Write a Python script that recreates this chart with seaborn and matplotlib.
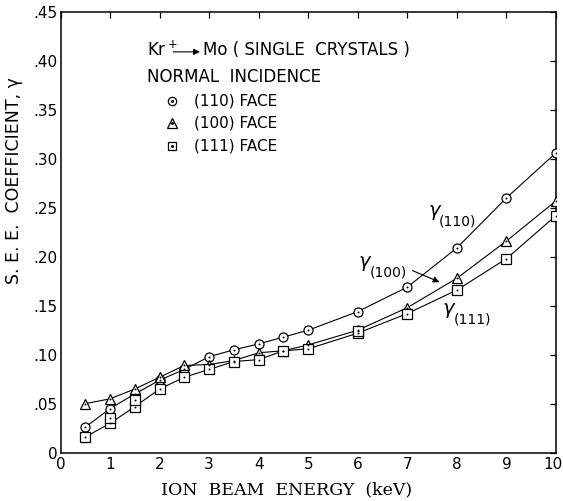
import numpy as np
import pandas as pd
import matplotlib
matplotlib.use("Agg")
import matplotlib.pyplot as plt
import matplotlib.transforms as mtrans
import seaborn as sns

# ---------------- data ----------------
energy = [0.5, 1, 1.5, 2, 2.5, 3, 3.5, 4, 4.5, 5, 6, 7, 8, 9, 10]
face110 = [0.026, 0.045, 0.060, 0.074, 0.085, 0.098, 0.105, 0.111, 0.118, 0.125, 0.144, 0.169, 0.209, 0.260, 0.306]
face100 = [0.050, 0.055, 0.065, 0.077, 0.089, 0.090, 0.094, 0.102, 0.104, 0.110, 0.125, 0.148, 0.178, 0.216, 0.257]
face111 = [0.016, 0.030, 0.047, 0.065, 0.077, 0.085, 0.093, 0.095, 0.104, 0.106, 0.122, 0.142, 0.166, 0.198, 0.242]
# repeated (111) measurements
extra111_x = [1, 1.5, 6]
extra111_y = [0.035, 0.054, 0.124]

series_names = ["(110) FACE", "(100) FACE", "(111) FACE"]
x_ticks = [0, 1, 2, 3, 4, 5, 6, 7, 8, 9, 10]
x_ticklabels = ["0", "1", "2", "3", "4", "5", "6", "7", "8", "9", "10"]
y_ticks = [0, 0.05, 0.10, 0.15, 0.20, 0.25, 0.30, 0.35, 0.40, 0.45]
y_ticklabels = ["0", ".05", ".10", ".15", ".20", ".25", ".30", ".35", ".40", ".45"]

df = pd.DataFrame({
    "energy": energy * 3,
    "coef": face110 + face100 + face111,
    "face": [series_names[0]] * len(energy) + [series_names[1]] * len(energy) + [series_names[2]] * len(energy),
})
df_extra = pd.DataFrame({"energy": extra111_x, "coef": extra111_y})

# ---------------- style ----------------
sns.set_theme(style="white")
plt.rcParams["font.family"] = ["DejaVu Sans"]
plt.rcParams["mathtext.fontset"] = "dejavusans"
plt.rcParams["text.color"] = "black"

fig = plt.figure(figsize=(5.63, 5.01), dpi=100)
ax = fig.add_axes([60.5 / 563, 1 - 452.7 / 501, (556 - 60.5) / 563, (452.7 - 11.7) / 501])

markers = {"(110) FACE": "o", "(100) FACE": "^", "(111) FACE": "s"}
sizes = {"(110) FACE": 6.5, "(100) FACE": 7, "(111) FACE": 6.5}
for name in series_names:
    sub = df[df["face"] == name]
    sns.lineplot(data=sub, x="energy", y="coef", ax=ax, color="black", lw=0.8,
                 marker=markers[name], markersize=sizes[name], markerfacecolor="white",
                 markeredgecolor="black", markeredgewidth=0.9, legend=False, zorder=3)
    sns.scatterplot(data=sub, x="energy", y="coef", ax=ax, color="black", s=2,
                    linewidth=0, legend=False, zorder=5)
sns.scatterplot(data=df_extra, x="energy", y="coef", ax=ax, marker="s", s=45,
                facecolor="white", edgecolor="black", linewidth=0.9, legend=False, zorder=4)
sns.scatterplot(data=df_extra, x="energy", y="coef", ax=ax, color="black", s=2,
                linewidth=0, legend=False, zorder=5)

ax.set_xlim(0, 10)
ax.set_ylim(0, 0.45)
ax.set_xticks(x_ticks)
ax.set_xticklabels(x_ticklabels)
ax.set_yticks(y_ticks)
ax.set_yticklabels(y_ticklabels)
ax.tick_params(direction="in", length=4, width=0.9, top=True, right=True,
               labelsize=11, colors="black", pad=3)
ax.tick_params(axis="y", pad=2)
for sp in ax.spines.values():
    sp.set_color("black")
    sp.set_linewidth(1.1)
ax.set_xlabel("")
ax.set_ylabel("")

# keep the last x tick label inside the canvas
last = ax.get_xticklabels()[-1]
last.set_transform(last.get_transform() + mtrans.ScaledTranslation(-3 / 100, 0, fig.dpi_scale_trans))

# ---------------- labels ----------------
fig.text(287 / 563, 1 - 490 / 501, "ION  BEAM  ENERGY  (keV)", family="DejaVu Serif",
         fontsize=12.5, ha="center", va="center", color="black")
fig.text(14 / 563, 1 - 181 / 501, "S. E. E.  COEFFICIENT, γ", rotation=90,
         fontsize=12.5, ha="center", va="center", color="black")

# legend block drawn inside axes
ax.text(1.75, 0.411, "Kr$^+$", fontsize=12, ha="left", va="center", color="black")
ax.annotate("", xy=(2.87, 0.409), xytext=(2.22, 0.409),
            arrowprops=dict(arrowstyle="-|>", color="black", lw=0.8, mutation_scale=9))
ax.text(2.88, 0.411, "Mo ( SINGLE  CRYSTALS )", fontsize=12, ha="left", va="center", color="black")
ax.text(1.75, 0.383, "NORMAL  INCIDENCE", fontsize=12, ha="left", va="center", color="black")
leg_y = [0.359, 0.336, 0.313]
for name, yy in zip(series_names, leg_y):
    ax.plot([2.25], [yy], marker=markers[name], markersize=sizes[name] - 0.5, mfc="white",
            mec="black", mew=0.9, ls="none")
    ax.plot([2.25], [yy], marker="o", markersize=1.2, color="black", ls="none")
    ax.text(2.7, yy, name, fontsize=11, ha="left", va="center", color="black")

# curve annotations
def gamma_label(x, y, sub, dx=0.22, dy=-0.011):
    ax.text(x, y, "γ", fontsize=14, ha="left", va="center", style="italic", color="black")
    ax.text(x + dx, y + dy, sub, fontsize=10, ha="left", va="center", color="black")

gamma_label(7.42, 0.247, "(110)")
gamma_label(6.02, 0.195, "(100)")
gamma_label(7.72, 0.147, "(111)")
ax.annotate("", xy=(7.70, 0.173), xytext=(7.05, 0.187),
            arrowprops=dict(arrowstyle="-|>", color="black", lw=0.8, mutation_scale=9))

fig.savefig("out.png", dpi=100, facecolor="white")
